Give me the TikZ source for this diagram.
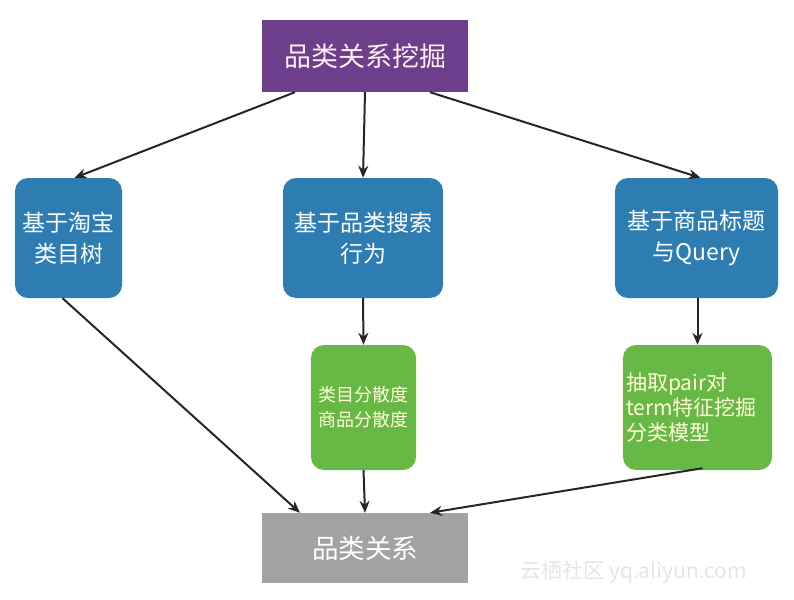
\documentclass[tikz,border=0pt]{standalone}
\usepackage{fontspec}
\setmainfont{Noto Sans CJK SC}
\usepackage{xcolor}
\usetikzlibrary{arrows.meta}

\definecolor{topviolet}{HTML}{6C3E8C}
\definecolor{stepblue}{HTML}{2E7DB2}
\definecolor{stepgreen}{HTML}{68B845}
\definecolor{resgray}{HTML}{A2A2A2}

\begin{document}
\begin{tikzpicture}[x=1pt, y=-1pt,
  box/.style={minimum height=72pt, inner sep=0pt, align=center},
  bluebox/.style={fill=stepblue, rounded corners=13pt, minimum height=120pt, inner sep=0pt,
    align=center, text=white, font=\fontsize{23}{31}\selectfont},
  greenbox/.style={fill=stepgreen, rounded corners=13pt, minimum height=125pt, inner sep=0pt,
    text=yellow!15!white},
  arr/.style={-{Stealth[length=12pt, width=10pt]}, line width=2pt, black!85}]
  \useasboundingbox (0,0) rectangle (794,599);
  % top and bottom
  \node[box, fill=topviolet, minimum width=206pt, text=pink!25!white,
    font=\fontsize{27}{32}\selectfont] (mine) at (365,56) {品类关系挖掘};
  \node[box, fill=resgray, minimum width=206pt, minimum height=70pt, text=white,
    font=\fontsize{26.5}{32}\selectfont] (rel) at (365,548) {品类关系};
  % three sources
  \node[bluebox, minimum width=107pt] (tree) at (68.5,238) {基于淘宝\\类目树};
  \node[bluebox, minimum width=160pt] (search) at (363,238) {基于品类搜索\\行为};
  \node[bluebox, minimum width=163pt] (title) at (696.5,238) {基于商品标题\\与Query};
  % features
  \node[greenbox, minimum width=105pt, align=center,
    font=\fontsize{18}{25}\selectfont] (disp) at (363.5,407.5) {类目分散度\\商品分散度};
  \node[greenbox, minimum width=149pt, align=left, text width=143pt,
    font=\fontsize{21}{25}\selectfont] (model) at (697.5,407.5) {抽取pair对\\term特征挖掘\\分类模型};
  % watermark
  \node[text=black!10, font=\fontsize{21}{24}\selectfont, anchor=west] (mark) at (517,572) {云栖社区 yq.aliyun.com};
  % arrows
  \draw[arr] ([xshift=-70pt]mine.south) -- ([xshift=6pt]tree.north);
  \draw[arr] (mine.south) -- (search.north);
  \draw[arr] ([xshift=65pt]mine.south) -- ([xshift=4pt]title.north);
  \draw[arr] (search.south) -- (disp.north);
  \draw[arr] ([xshift=1pt]title.south) -- (model.north);
  \draw[arr] ([xshift=-6pt]tree.south) -- ([xshift=-65pt]rel.north);
  \draw[arr] (disp.south) -- (rel.north);
  \draw[arr] ([xshift=5pt,yshift=2pt]model.south) -- ([xshift=65pt]rel.north);
\end{tikzpicture}
\end{document}
